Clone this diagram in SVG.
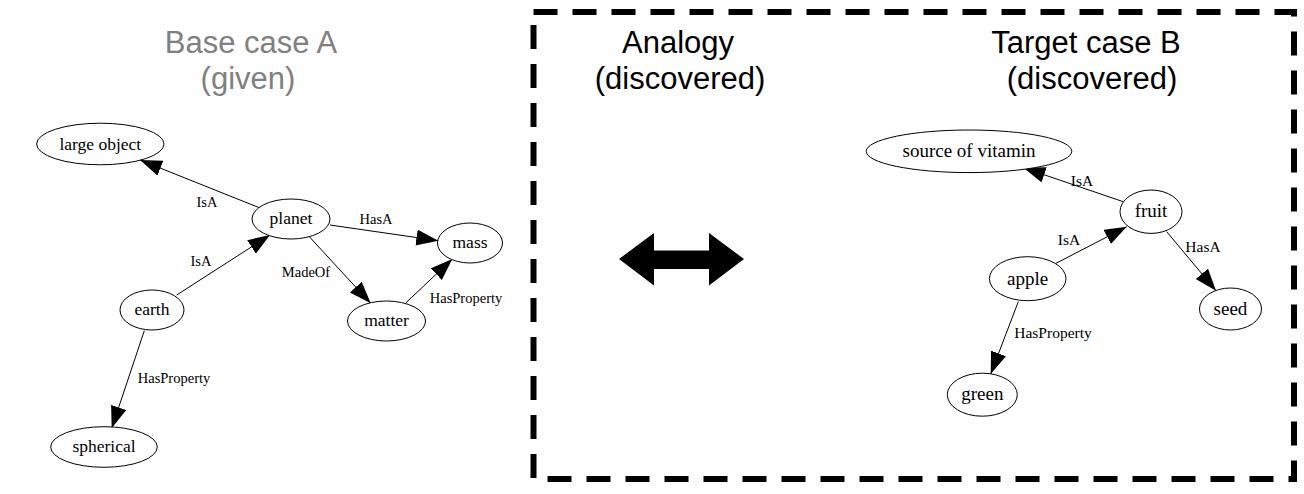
<svg xmlns="http://www.w3.org/2000/svg" width="1304" height="494" viewBox="0 0 1304 494">
<style>
.title{font-family:"Liberation Sans",Arial,sans-serif;font-size:31px;text-anchor:middle;fill:#000}
.gray{fill:#808080}
.node ellipse{fill:#fff;stroke:#000;stroke-width:1}
.nl{font-family:"Liberation Serif","Times New Roman",serif;font-size:17.5px;text-anchor:middle;fill:#000}
.nr{font-family:"Liberation Serif","Times New Roman",serif;font-size:19px;text-anchor:middle;fill:#000}
.el{font-family:"Liberation Serif","Times New Roman",serif;font-size:14.5px;text-anchor:middle;fill:#000}
.er{font-family:"Liberation Serif","Times New Roman",serif;font-size:15.5px;text-anchor:middle;fill:#000}
.edge line{stroke:#000;stroke-width:1;marker-end:url(#ah)}
</style>
<defs>
<marker id="ah" markerUnits="userSpaceOnUse" markerWidth="23" markerHeight="17" refX="22" refY="8" orient="auto" viewBox="0 0 23 17">
<path d="M0,0 L22,8 L0,16 z" fill="#000"/>
</marker>
</defs>
<rect width="1304" height="494" fill="#fff"/>

<g id="titles">
<text class="title gray" x="251" y="53">Base case A</text>
<text class="title gray" x="248" y="89">(given)</text>
<text class="title" x="678" y="53">Analogy</text>
<text class="title" x="680" y="89">(discovered)</text>
<text class="title" x="1086" y="53">Target case B</text>
<text class="title" x="1092" y="89">(discovered)</text>
</g>

<g id="frame">
<rect x="533.5" y="12" width="760.5" height="467" fill="none" stroke="#000" stroke-width="6" stroke-dasharray="24 15"/>
</g>

<g id="analogy-arrow">
<path d="M619,259 L654,233 L654,250.5 L709,250.5 L709,233 L744,259 L709,285.5 L709,269 L654,269 L654,285.5 Z" fill="#000"/>
</g>

<g id="connectors">
<g class="edge">
<line x1="260" y1="208" x2="140" y2="160"/>
<line x1="176.7" y1="295" x2="270" y2="235"/>
<line x1="330" y1="225" x2="438.3" y2="240.7"/>
<line x1="309.3" y1="236.7" x2="370.7" y2="303.3"/>
<line x1="406" y1="302.7" x2="452.3" y2="259"/>
<line x1="144.3" y1="330.7" x2="111.7" y2="428.3"/>
<line x1="1123.3" y1="201.7" x2="1023.3" y2="167.7"/>
<line x1="1056" y1="263.3" x2="1126.7" y2="226.7"/>
<line x1="1166.7" y1="231.7" x2="1216" y2="290.7"/>
<line x1="1018.3" y1="301.7" x2="990.7" y2="374"/>
</g>
<g id="edge-labels">
<text class="el" x="207" y="207">IsA</text>
<text class="el" x="201" y="266">IsA</text>
<text class="el" x="376" y="224">HasA</text>
<text class="el" x="306" y="277">MadeOf</text>
<text class="el" x="466" y="303">HasProperty</text>
<text class="el" x="174" y="383">HasProperty</text>
<text class="er" x="1082" y="186">IsA</text>
<text class="er" x="1069" y="244.5">IsA</text>
<text class="er" x="1203" y="252">HasA</text>
<text class="er" x="1053" y="338">HasProperty</text>
</g>
</g>

<g id="node-large-object" class="node"><ellipse cx="100.3" cy="144" rx="63.7" ry="20.8"/><text class="nl" x="100.3" y="149.5">large object</text></g>
<g id="node-planet" class="node"><ellipse cx="291" cy="219" rx="39" ry="20"/><text class="nl" x="291" y="223.5">planet</text></g>
<g id="node-mass" class="node"><ellipse cx="470" cy="243" rx="32.5" ry="20"/><text class="nl" x="470" y="248">mass</text></g>
<g id="node-earth" class="node"><ellipse cx="152" cy="310" rx="32" ry="20"/><text class="nl" x="152" y="315">earth</text></g>
<g id="node-matter" class="node"><ellipse cx="386.5" cy="321" rx="39" ry="20"/><text class="nl" x="386.5" y="326">matter</text></g>
<g id="node-spherical" class="node"><ellipse cx="104" cy="447" rx="53.3" ry="20.3"/><text class="nl" x="104" y="452">spherical</text></g>

<g id="node-source-of-vitamin" class="node"><ellipse cx="969" cy="151.3" rx="102.8" ry="21.3"/><text class="nr" x="969" y="157">source of vitamin</text></g>
<g id="node-fruit" class="node"><ellipse cx="1151" cy="211.7" rx="31" ry="21.7"/><text class="nr" x="1151" y="217.3">fruit</text></g>
<g id="node-apple" class="node"><ellipse cx="1027.7" cy="278.7" rx="38.3" ry="22"/><text class="nr" x="1027.7" y="284.5">apple</text></g>
<g id="node-seed" class="node"><ellipse cx="1230.5" cy="309" rx="31" ry="21"/><text class="nr" x="1230.5" y="314.5">seed</text></g>
<g id="node-green" class="node"><ellipse cx="982.3" cy="394.7" rx="35" ry="21.5"/><text class="nr" x="982.3" y="400.3">green</text></g>
</svg>
